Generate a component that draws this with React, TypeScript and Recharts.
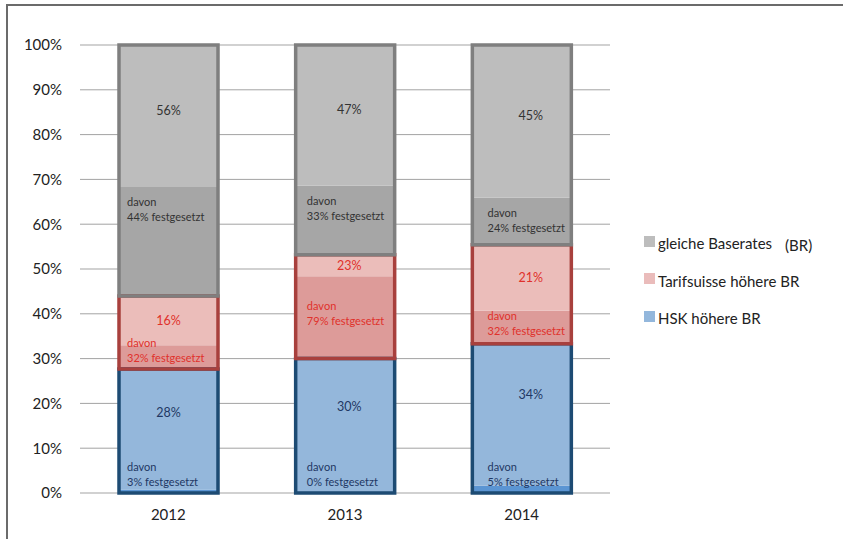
import { Bar, BarChart, CartesianGrid, LabelList, XAxis, YAxis } from "recharts"

const years = ["2012", "2013", "2014"]

// shown shares (labels) and estimated segment heights in %
const hskPct = [28, 30, 34]
const tarifPct = [16, 23, 21]
const gleichPct = [56, 47, 45]

const hskFixedPct = [3, 0, 5]
const tarifFixedPct = [32, 79, 32]
const gleichFixedPct = [44, 33, 24]

const hskTotal = [27.7, 30, 33.3]
const hskFixed = [0.8, 0, 1.6]
const tarifTotal = [16.3, 23.2, 22.1]
const tarifFixed = [5.3, 18.4, 7.4]
const gleichTotal = [56, 46.8, 44.6]
const gleichFixed = [24.3, 15.4, 10.5]

const yTicks = [0, 10, 20, 30, 40, 50, 60, 70, 80, 90, 100]

const data = years.map((year, i) => ({
  year,
  hskFix: hskFixed[i],
  hskRest: hskTotal[i] - hskFixed[i],
  tarFix: tarifFixed[i],
  tarRest: tarifTotal[i] - tarifFixed[i],
  glFix: gleichFixed[i],
  glRest: gleichTotal[i] - gleichFixed[i],
  hskAll: hskTotal[i],
  tarAll: tarifTotal[i],
  glAll: gleichTotal[i],
}))

const FONT = "Lato, 'Open Sans', sans-serif"
const SHIFT = [0, 4, 9]

const pctLabel = (values: number[], color: string, frac: number) => (props: any) => {
  const { x, y, width, height, index } = props
  return (
    <text
      x={x + width / 2 + SHIFT[index]}
      y={y + height * frac}
      textAnchor="middle"
      dominantBaseline="central"
      fill={color}
      fontSize={12.5}
      fontFamily={FONT}
    >
      {values[index]}%
    </text>
  )
}

// placed on the outline bar of a group; fixed part is the lower share of it
const davonLabel =
  (values: number[], fixed: number[], total: number[], color: string, mode: "top" | "bottom") =>
  (props: any) => {
    const { x, y, height, index } = props
    const bottom = y + height
    const fixH = (height * fixed[index]) / total[index]
    const fixTop = bottom - fixH
    let mid
    if (mode === "top") {
      mid = fixTop + 22
    } else {
      mid = Math.min(fixTop + fixH / 2 - 4, bottom - 19)
    }
    const tx = x + 8 + SHIFT[index] * 0.8
    return (
      <text fill={color} fontSize={11} fontFamily={FONT}>
        <tspan x={tx} y={mid - 7.5} dominantBaseline="central">
          davon
        </tspan>
        <tspan x={tx} y={mid + 7.5} dominantBaseline="central">
          {values[index]}% festgesetzt
        </tspan>
      </text>
    )
  }

const legendItems = [
  { color: "#bdbdbd", text: "gleiche Baserates", extra: "(BR)" },
  { color: "#eabcbb", text: "Tarifsuisse höhere BR" },
  { color: "#93b7dc", text: "HSK höhere BR" },
]

export default function App() {
  return (
    <div
      style={{
        position: "absolute",
        left: 0,
        top: 0,
        width: 843,
        height: 539,
        background: "#fff",
        fontFamily: FONT,
      }}
    >
      <div
        style={{
          position: "absolute",
          left: 6,
          top: 4,
          width: 837,
          height: 535,
          borderTop: "2px solid #6b6b6b",
          borderLeft: "2px solid #6b6b6b",
          boxSizing: "border-box",
        }}
      />
      <BarChart
        width={843}
        height={539}
        data={data}
        margin={{ top: 45, right: 233, left: 20, bottom: 16 }}
        barSize={99}
        barGap={-99}
      >
        <CartesianGrid vertical={false} stroke="#a3a3a3" strokeWidth={1} />
        <XAxis
          dataKey="year"
          axisLine={false}
          tickLine={false}
          height={30}
          tick={{ fill: "#222", fontSize: 15, fontFamily: FONT }}
          tickMargin={10}
        />
        <YAxis
          domain={[0, 100]}
          ticks={yTicks}
          width={60}
          axisLine={false}
          tickLine={false}
          tickFormatter={(v) => `${v}%`}
          tick={{ fill: "#222", fontSize: 15, fontFamily: FONT }}
          tickMargin={12}
        />
        <Bar dataKey="hskFix" stackId="a" fill="#5b95d3" isAnimationActive={false} />
        <Bar dataKey="hskRest" stackId="a" fill="#94b7db" isAnimationActive={false}>
          <LabelList content={pctLabel(hskPct, "#1f3864", 0.36)} />
        </Bar>
        <Bar dataKey="tarFix" stackId="a" fill="#dd9b99" isAnimationActive={false} />
        <Bar dataKey="tarRest" stackId="a" fill="#ebbdba" isAnimationActive={false}>
          <LabelList content={pctLabel(tarifPct, "#e0312b", 0.5)} />
        </Bar>
        <Bar dataKey="glFix" stackId="a" fill="#a6a6a6" isAnimationActive={false} />
        <Bar dataKey="glRest" stackId="a" fill="#bdbdbd" isAnimationActive={false}>
          <LabelList content={pctLabel(gleichPct, "#333", 0.46)} />
        </Bar>
        <Bar dataKey="hskAll" stackId="b" fill="none" stroke="#1d4b73" strokeWidth={3.5} isAnimationActive={false}>
          <LabelList content={davonLabel(hskFixedPct, hskFixed, hskTotal, "#1f3864", "bottom")} />
        </Bar>
        <Bar dataKey="tarAll" stackId="b" fill="none" stroke="#a8403d" strokeWidth={3.5} isAnimationActive={false}>
          <LabelList content={davonLabel(tarifFixedPct, tarifFixed, tarifTotal, "#e0312b", "bottom")} />
        </Bar>
        <Bar dataKey="glAll" stackId="b" fill="none" stroke="#7f7f7f" strokeWidth={3.5} isAnimationActive={false}>
          <LabelList content={davonLabel(gleichFixedPct, gleichFixed, gleichTotal, "#333", "top")} />
        </Bar>
      </BarChart>
      <div style={{ position: "absolute", left: 644, top: 233 }}>
        {legendItems.map((item, i) => (
          <div
            key={item.text}
            style={{
              position: "absolute",
              top: i * 37.5,
              left: 0,
              display: "flex",
              alignItems: "center",
              whiteSpace: "nowrap",
              fontSize: 15,
              color: "#222",
              height: 20,
            }}
          >
            <span style={{ width: 11, height: 11, background: item.color, marginRight: 3, marginTop: -4 }} />
            <span>{item.text}</span>
            {item.extra && <span style={{ marginLeft: 13, marginTop: 4 }}>{item.extra}</span>}
          </div>
        ))}
      </div>
    </div>
  )
}
